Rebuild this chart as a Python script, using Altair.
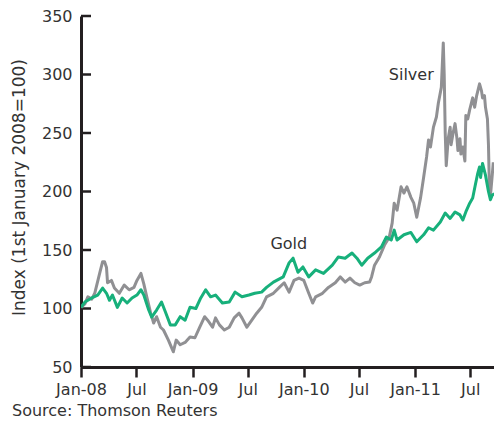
import altair as alt
import pandas as pd

# months since 1 Jan 2008 and index values
silver_months = [0.0, 0.42, 0.74, 1.16, 1.48, 2.01, 2.33, 2.54, 2.75, 2.86, 3.28, 3.60, 4.13, 4.66, 5.19,
                 5.71, 6.03, 6.46, 6.77, 7.09, 7.51, 7.83, 8.15, 8.57, 8.89, 9.42, 9.74, 9.95, 10.26, 10.69,
                 11.22, 11.75, 12.28, 12.80, 13.33, 13.65, 14.18, 14.50, 14.92, 15.45, 15.98, 16.51, 17.04,
                 17.35, 17.88, 18.41, 18.94, 19.47, 20.0, 20.74, 21.38, 21.90, 22.43, 22.96, 23.49, 24.02,
                 24.55, 24.97, 25.29, 26.03, 26.67, 27.41, 27.94, 28.47, 28.99, 29.52, 30.05, 30.58, 31.11,
                 31.32, 31.64, 32.17, 32.70, 33.23, 33.54, 33.76, 34.07, 34.50, 34.81, 35.13, 35.56, 35.87,
                 36.19, 36.61, 36.93, 37.25, 37.46, 37.67, 37.99, 38.31, 38.52, 38.84, 39.05, 39.15, 39.26,
                 39.37, 39.58, 39.79, 39.89, 40.11, 40.32, 40.53, 40.63, 40.85, 40.95, 41.16, 41.38, 41.48,
                 41.69, 41.90, 42.22, 42.43, 42.65, 42.96, 43.17, 43.28, 43.49, 43.60, 43.81, 43.92, 44.02,
                 44.13, 44.34, 44.44]
silver_values = [101, 104, 110, 108, 113, 130, 140, 140, 135, 122, 124, 117.5, 113, 120, 116,
                 118, 124, 130, 121, 110, 96, 87.6, 93, 84, 81.6, 73, 67, 63, 73, 69,
                 71, 75.6, 75, 84, 93, 90, 84, 92, 86, 81.6, 84, 92, 96,
                 92, 84, 90, 96, 101, 110, 113, 118, 122, 114, 124, 126, 124,
                 113, 104.7, 110, 113, 118, 122, 127, 122.6, 126, 122, 120, 122, 122.6,
                 127, 137, 144, 154, 161, 173, 190, 184, 204, 198.7, 204, 195, 190,
                 178, 195, 212, 229.5, 244, 238, 255, 263.7, 275.6, 289, 327, 300, 250,
                 222, 245, 255, 240, 250, 258, 245, 235, 245, 232, 238, 226, 265,
                 262, 270, 280, 272, 282, 292, 286, 280, 282, 272, 262, 240, 204,
                 196, 215, 225]

gold_months = [0.0, 0.42, 1.16, 1.80, 2.33, 2.75, 3.07, 3.39, 3.92, 4.44, 4.97, 5.50, 6.03, 6.46, 6.77,
               7.30, 7.62, 8.15, 8.68, 9.10, 9.63, 10.16, 10.69, 11.22, 11.75, 12.38, 12.91, 13.44, 13.97,
               14.50, 15.24, 15.98, 16.61, 17.35, 18.10, 18.73, 19.47, 20.0, 20.74, 21.80, 22.43, 22.86,
               23.39, 23.92, 24.55, 25.29, 26.14, 27.09, 27.72, 28.47, 29.21, 29.74, 30.26, 30.90, 31.64,
               32.38, 32.91, 33.44, 33.76, 34.07, 34.81, 35.56, 36.19, 36.93, 37.46, 37.99, 38.73, 39.26,
               39.79, 40.32, 40.85, 41.16, 41.48, 41.90, 42.22, 42.54, 42.75, 42.96, 43.07, 43.28, 43.60,
               43.92, 44.13, 44.34, 44.55]
gold_values = [101, 105.5, 109, 111.5, 117.5, 113, 107, 111.5, 101, 109, 104.7, 109, 111.5, 116, 111.5,
               98.7, 92.7, 98.7, 105.5, 97, 86, 86, 93, 90, 101, 100, 109, 116, 110,
               111.5, 104.7, 105.5, 114, 110, 111.5, 113, 114, 118, 122.6, 127, 139, 143,
               131, 135.5, 127, 133, 130, 137, 144, 143, 147.4, 143, 137, 143, 147.4,
               152.6, 161, 158.5, 167, 158.5, 163, 165, 157, 163, 169, 167, 174, 181.6,
               177, 182.5, 180, 175.6, 182.5, 190, 194.4, 207, 215, 221, 212, 224, 214,
               200, 193, 197, 198]

label_names = ["Gold", "Silver"]
label_months = [22.4, 35.6]
label_values = [155, 300]

y_tick_values = [50, 100, 150, 200, 250, 300, 350]
x_tick_years_months = [(2008, 1), (2008, 7), (2009, 1), (2009, 7), (2010, 1), (2010, 7), (2011, 1), (2011, 7)]

FONT = "DejaVu Sans"
TEXT = "#333333"
AXIS = "#231f20"
GRAY = "#909093"
GREEN = "#17b07b"

base_date = pd.Timestamp("2008-01-01")


def to_date(m):
    return base_date + pd.Timedelta(days=m * 30.4375)


silver = pd.DataFrame({"date": [to_date(m) for m in silver_months], "value": silver_values})
gold = pd.DataFrame({"date": [to_date(m) for m in gold_months], "value": gold_values})
labels = pd.DataFrame({"date": [to_date(m) for m in label_months], "value": label_values, "name": label_names})
yticks = pd.DataFrame({"value": y_tick_values})

W, H = 413, 351

x_scale = alt.Scale(domain=[alt.DateTime(year=2008, month=1, date=1),
                            alt.DateTime(year=2011, month=9, date=17)])
y_scale = alt.Scale(domain=[50, 350], nice=False, zero=False)

x_axis = alt.Axis(
    values=[alt.DateTime(year=y, month=m, date=1) for y, m in x_tick_years_months],
    labelExpr="month(datum.value) == 0 ? timeFormat(datum.value, '%b-%y') : timeFormat(datum.value, '%b')",
    title=None, grid=False, domainColor=AXIS, domainWidth=3, tickColor=AXIS, tickWidth=2.5,
    tickSize=10, labelFont=FONT, labelFontSize=16, labelColor=TEXT, labelPadding=4,
    labelOverlap=False, labelBound=False, labelFlush=False,
)
y_axis = alt.Axis(
    values=y_tick_values, title="Index (1st January 2008=100)", grid=False,
    domainColor=AXIS, domainWidth=3, ticks=False, tickSize=0, labelPadding=9,
    labelFont=FONT, labelFontSize=16, labelColor=TEXT,
    titleFont=FONT, titleFontSize=17, titleFontWeight="normal", titleColor=TEXT,
    titleX=-62, titleY=171, titleAngle=270, titleAlign="center", titleBaseline="middle",
)

X = alt.X("date:T", scale=x_scale, axis=x_axis)
Y = alt.Y("value:Q", scale=y_scale, axis=y_axis)

silver_line = alt.Chart(silver).mark_line(color=GRAY, strokeWidth=3, clip=True, strokeJoin="round").encode(x=X, y=Y)
gold_line = alt.Chart(gold).mark_line(color=GREEN, strokeWidth=3, clip=True, strokeJoin="round").encode(x=X, y=Y)

tick_marks = alt.Chart(yticks).mark_rule(color=AXIS, strokeWidth=2.5).encode(
    y=Y, x=alt.value(0), x2=alt.value(10)
)

text_labels = alt.Chart(labels).mark_text(font=FONT, fontSize=16, color=TEXT, align="center", baseline="middle").encode(
    x=X, y=Y, text="name:N"
)

source = alt.Chart(pd.DataFrame({"t": ["Source: Thomson Reuters"]})).mark_text(
    font=FONT, fontSize=16, color=TEXT, align="left", baseline="alphabetic"
).encode(x=alt.value(-69), y=alt.value(H + 49), text="t:N")

chart = alt.layer(tick_marks, silver_line, gold_line, text_labels, source).properties(
    width=W, height=H,
    autosize=alt.AutoSizeParams(type="none"),
    padding={"left": 73, "top": 8, "right": 0, "bottom": 54},
).configure_view(stroke=None)

chart.save("out.html", embed_options={"renderer": "svg", "actions": False})
